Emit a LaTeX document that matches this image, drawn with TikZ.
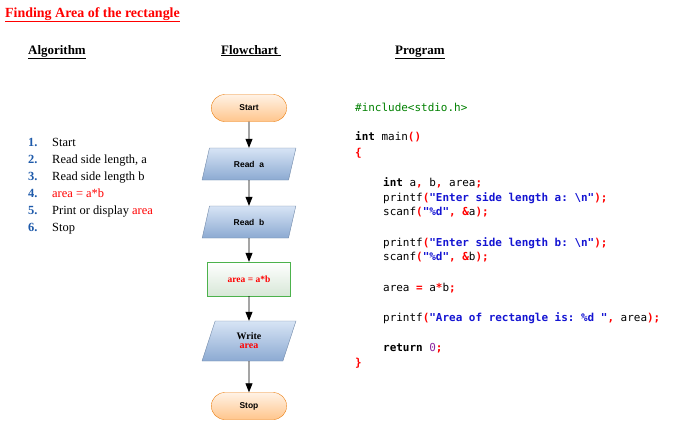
\documentclass[tikz,border=0pt]{standalone}
\usepackage{fontspec}
\setmainfont{Liberation Serif}
\setsansfont{Liberation Sans}
\setmonofont{DejaVu Sans Mono}
\usetikzlibrary{shapes.geometric,shapes.misc,arrows.meta}
\definecolor{codegreen}{RGB}{0,128,0}
\definecolor{codeblue}{RGB}{20,20,210}
\definecolor{codepurple}{RGB}{140,40,160}
\definecolor{numblue}{RGB}{30,90,170}
\definecolor{iotop}{RGB}{215,228,245}
\definecolor{iobot}{RGB}{140,170,210}
\tikzset{
  term/.style={rounded rectangle,draw=orange!70!brown,top color=orange!10,bottom color=orange!45,
    minimum width=82bp,minimum height=27bp,font=\sffamily\bfseries\fontsize{8.5}{9}\selectfont},
  io/.style={trapezium,trapezium left angle=75,trapezium right angle=105,trapezium stretches,
    draw=iobot!80!black,top color=iotop,bottom color=iobot,
    minimum width=94bp,minimum height=32bp,font=\sffamily\bfseries\fontsize{8.5}{9}\selectfont,align=center},
  proc/.style={rectangle,draw=green!40!gray,top color=white,bottom color=green!25!gray!25,
    minimum width=83bp,minimum height=34bp,font=\bfseries\fontsize{9.5}{10}\selectfont,text=red},
  flow/.style={-{Triangle[length=9bp,width=7bp]},thick},
  head/.style={font=\bfseries\fontsize{13}{14}\selectfont},
  code/.style={anchor=base west,font=\ttfamily\fontsize{11}{12}\selectfont,inner sep=0pt},
  alg/.style={anchor=base west,font=\fontsize{12.5}{14}\selectfont,inner sep=0pt}
}
\newcommand{\kw}[1]{\textbf{#1}}
\newcommand{\st}[1]{\textcolor{codeblue}{\textbf{#1}}}
\newcommand{\pu}[1]{\textcolor{red}{\textbf{#1}}}
\begin{document}
\begin{tikzpicture}[x=1bp,y=-1bp]
\useasboundingbox (0,0) rectangle (679,425);
% headings
\node[anchor=base west,inner sep=0pt,font=\bfseries\fontsize{14}{16}\selectfont,text=red] (title) at (5,17) {\underline{Finding Area of the rectangle}};
\node[head,anchor=base west,inner sep=0pt] (halg) at (28,54) {\underline{Algorithm}};
\node[head,anchor=base west,inner sep=0pt] (hflow) at (221,54) {\underline{Flowchart\ }};
\node[head,anchor=base west,inner sep=0pt] (hprog) at (395,54) {\underline{Program}};
% algorithm
\foreach \n/\t [count=\i] in {1/Start,2/{Read side length, a},3/{Read side length b},
  4/{\textcolor{red}{area = a*b}},5/{Print or display \textcolor{red}{area}},6/Stop}{
  \node[alg,text=numblue,font=\bfseries\fontsize{12.5}{14}\selectfont] (n\i) at (28,129+17*\i) {\n.};
  \node[alg] (a\i) at (52,129+17*\i) {\t};
}
% flowchart
\node[term] (start) at (249,108) {Start};
\node[io] (reada) at (249,164) {Read\ \ a};
\node[io] (readb) at (249,222) {Read\ \ b};
\node[proc] (calc) at (249,279) {area = a*b};
\node[io,minimum height=40bp] (write) at (249,341) {\fontsize{10}{11}\selectfont\rmfamily Write\\\fontsize{10}{11}\selectfont\rmfamily\textcolor{red}{area}};
\node[term] (stop) at (249,406) {Stop};
\foreach \u/\v in {start/reada,reada/readb,readb/calc,calc/write,write/stop}
  \draw[flow] (\u) -- (\v);
% program
\node[code,text=codegreen] (c1) at (355,111) {\#include<stdio.h>};
\node[code] (c2) at (355,140) {\kw{int} main\pu{()}};
\node[code] (c3) at (355,156) {\pu{\{}};
\node[code] (c4) at (383,186) {\kw{int} a\pu{,} b\pu{,} area\pu{;}};
\node[code] (c5) at (383,201) {printf\pu{(}\st{"Enter side length a: \textbackslash n"}\pu{);}};
\node[code] (c6) at (383,215) {scanf\pu{(}\st{"\%d"}\pu{,} \pu{\&}a\pu{);}};
\node[code] (c7) at (383,246) {printf\pu{(}\st{"Enter side length b: \textbackslash n"}\pu{);}};
\node[code] (c8) at (383,260) {scanf\pu{(}\st{"\%d"}\pu{,} \pu{\&}b\pu{);}};
\node[code] (c9) at (383,291) {area \pu{=} a\pu{*}b\pu{;}};
\node[code] (c10) at (383,321) {printf\pu{(}\st{"Area of rectangle is: \%d "}\pu{,} area\pu{);}};
\node[code] (c11) at (383,351) {\kw{return} \textcolor{codepurple}{0}\pu{;}};
\node[code] (c12) at (355,366) {\pu{\}}};
\end{tikzpicture}
\end{document}
